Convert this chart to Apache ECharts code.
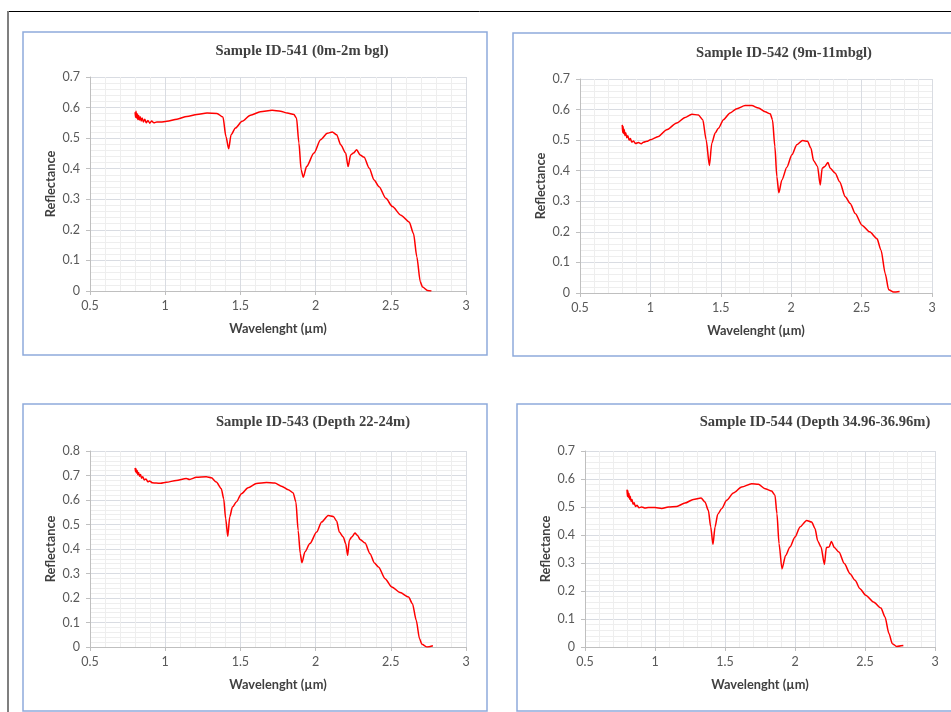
<!DOCTYPE html>
<html>
<head>
<meta charset="utf-8">
<script src="https://cdn.jsdelivr.net/npm/echarts@6/dist/echarts.min.js"></script>
<style>
html,body{margin:0;padding:0;background:#fff;}
#c{width:951px;height:712px;}
</style>
</head>
<body>
<div id="c"></div>
<script>
const titles = ['Sample ID-541 (0m-2m bgl)', 'Sample ID-542 (9m-11mbgl)', 'Sample ID-543 (Depth 22-24m)', 'Sample ID-544 (Depth 34.96-36.96m)'];
const xName = 'Wavelenght (µm)';
const yName = 'Reflectance';
const xTicks = [0.5, 1, 1.5, 2, 2.5, 3];
const yMax = [0.7, 0.7, 0.8, 0.7];

const x541 = [0.800,0.803,0.806,0.810,0.814,0.818,0.823,0.828,0.834,0.840,0.847,0.855,0.864,0.874,0.885,0.897,0.910,0.925,0.944,0.970,1.011,1.078,1.144,1.211,1.278,1.344,1.384,1.404,1.422,1.438,1.467,1.511,1.567,1.633,1.711,1.767,1.811,1.856,1.873,1.889,1.904,1.918,1.940,1.989,2.033,2.078,2.111,2.140,2.167,2.200,2.216,2.233,2.251,2.273,2.296,2.322,2.356,2.389,2.422,2.467,2.511,2.567,2.622,2.651,2.673,2.696,2.711,2.744,2.770];
const y541 = [0.585,0.568,0.588,0.566,0.580,0.561,0.575,0.559,0.570,0.556,0.566,0.553,0.562,0.550,0.558,0.549,0.556,0.550,0.553,0.553,0.555,0.562,0.571,0.577,0.582,0.581,0.569,0.505,0.465,0.511,0.533,0.555,0.575,0.586,0.591,0.588,0.582,0.577,0.566,0.484,0.396,0.372,0.407,0.451,0.495,0.516,0.520,0.511,0.478,0.451,0.407,0.445,0.451,0.462,0.445,0.438,0.402,0.363,0.341,0.303,0.276,0.248,0.226,0.188,0.112,0.030,0.013,0.002,0.000];

const x542 = [0.800,0.803,0.806,0.810,0.814,0.819,0.825,0.832,0.840,0.849,0.858,0.867,0.880,0.895,0.915,0.935,0.950,0.975,1.000,1.057,1.116,1.187,1.246,1.294,1.341,1.372,1.396,1.419,1.436,1.460,1.483,1.519,1.566,1.614,1.673,1.720,1.768,1.815,1.851,1.867,1.884,1.898,1.912,1.934,1.969,2.005,2.040,2.081,2.116,2.140,2.159,2.187,2.206,2.220,2.239,2.261,2.277,2.313,2.344,2.384,2.419,2.455,2.502,2.557,2.609,2.638,2.668,2.692,2.727,2.770];
const y542 = [0.550,0.525,0.545,0.522,0.535,0.515,0.524,0.508,0.514,0.500,0.505,0.494,0.497,0.489,0.492,0.488,0.493,0.496,0.501,0.512,0.534,0.556,0.574,0.585,0.582,0.567,0.501,0.417,0.490,0.523,0.539,0.567,0.589,0.603,0.613,0.613,0.605,0.593,0.586,0.567,0.479,0.381,0.328,0.370,0.411,0.452,0.485,0.499,0.496,0.474,0.433,0.414,0.353,0.408,0.414,0.427,0.408,0.392,0.364,0.315,0.293,0.260,0.222,0.200,0.178,0.140,0.063,0.011,0.003,0.005];

const x543 = [0.800,0.803,0.806,0.810,0.814,0.818,0.823,0.829,0.836,0.843,0.851,0.860,0.872,0.885,0.896,0.915,0.940,0.970,1.007,1.073,1.140,1.162,1.207,1.273,1.307,1.340,1.373,1.389,1.402,1.416,1.429,1.447,1.473,1.507,1.551,1.607,1.673,1.729,1.773,1.818,1.851,1.869,1.884,1.898,1.909,1.929,1.962,2.007,2.040,2.084,2.118,2.140,2.158,2.184,2.200,2.213,2.224,2.240,2.262,2.278,2.296,2.329,2.362,2.391,2.418,2.462,2.507,2.562,2.618,2.644,2.669,2.691,2.707,2.740,2.780];
const y543 = [0.731,0.715,0.728,0.710,0.720,0.703,0.712,0.697,0.704,0.689,0.695,0.682,0.686,0.674,0.678,0.670,0.669,0.668,0.672,0.680,0.688,0.684,0.693,0.695,0.691,0.673,0.646,0.605,0.524,0.452,0.531,0.571,0.592,0.626,0.650,0.667,0.671,0.669,0.656,0.642,0.629,0.592,0.476,0.381,0.344,0.388,0.422,0.469,0.510,0.537,0.533,0.514,0.469,0.449,0.422,0.374,0.435,0.449,0.465,0.456,0.439,0.424,0.381,0.343,0.327,0.279,0.245,0.222,0.204,0.177,0.109,0.034,0.011,0.000,0.005];

const x544 = [0.800,0.803,0.806,0.810,0.814,0.818,0.823,0.829,0.836,0.843,0.851,0.860,0.872,0.886,0.905,0.930,0.952,1.000,1.048,1.095,1.155,1.214,1.274,1.329,1.357,1.381,1.398,1.414,1.429,1.448,1.476,1.512,1.560,1.619,1.690,1.738,1.786,1.833,1.857,1.871,1.886,1.907,1.933,1.964,2.000,2.036,2.083,2.119,2.143,2.162,2.186,2.210,2.224,2.243,2.260,2.281,2.314,2.352,2.393,2.429,2.464,2.505,2.560,2.614,2.643,2.671,2.695,2.726,2.774];
const y544 = [0.562,0.538,0.558,0.535,0.548,0.528,0.538,0.520,0.527,0.510,0.515,0.502,0.506,0.497,0.500,0.496,0.498,0.498,0.495,0.500,0.502,0.514,0.527,0.532,0.518,0.488,0.429,0.367,0.429,0.474,0.494,0.524,0.550,0.571,0.583,0.581,0.565,0.557,0.542,0.476,0.369,0.279,0.327,0.357,0.393,0.429,0.452,0.446,0.423,0.379,0.357,0.295,0.355,0.357,0.377,0.355,0.339,0.298,0.262,0.238,0.208,0.185,0.161,0.139,0.107,0.048,0.012,0.002,0.005];

const xs = [x541, x542, x543, x544];
const ys = [y541, y542, y543, y544];

// layout
const grids = [
  {left: 90, top: 77, width: 376, height: 214},
  {left: 580, top: 79, width: 352, height: 214},
  {left: 90, top: 451, width: 376, height: 196},
  {left: 585, top: 451, width: 350, height: 196}
];
const titlePos = [[302, 44], [784, 46], [313, 415], [815, 415]];
const boxes = [
  {x: 23, y: 32, w: 464, h: 323},
  {x: 513, y: 33, w: 445, h: 323},
  {x: 23, y: 404, w: 464, h: 307},
  {x: 517, y: 404, w: 441, h: 307}
];

const tickFont = {fontFamily: 'Lato, "Open Sans", sans-serif', fontSize: 12.5, color: '#595959'};
const nameFont = {fontFamily: 'Lato, "Open Sans", sans-serif', fontSize: 12.8, fontWeight: 'bold', color: '#404040'};

const option = {
  backgroundColor: '#ffffff',
  animation: false,
  title: titles.map((t, i) => ({
    text: t,
    left: titlePos[i][0],
    top: titlePos[i][1],
    textAlign: 'center',
    padding: 0,
    textStyle: {fontFamily: '"Liberation Serif", "Times New Roman", serif', fontWeight: 'bold', fontSize: 14.6, color: '#404040'}
  })),
  grid: grids.map(g => Object.assign({containLabel: false}, g)),
  xAxis: grids.map((g, i) => ({
    type: 'value', gridIndex: i,
    min: xTicks[0], max: xTicks[xTicks.length - 1], interval: 0.5,
    name: xName, nameLocation: 'middle', nameGap: 31, nameTextStyle: nameFont,
    axisLine: {show: true, lineStyle: {color: '#bfbfbf', width: 1}},
    axisTick: {show: true, length: 4, lineStyle: {color: '#bfbfbf'}},
    axisLabel: Object.assign({margin: 8}, tickFont),
    splitLine: {show: true, lineStyle: {color: '#d9dce2', width: 1}},
    minorTick: {show: false, splitNumber: 5},
    minorSplitLine: {show: true, lineStyle: {color: '#eeeeee', width: 1}}
  })),
  yAxis: grids.map((g, i) => ({
    type: 'value', gridIndex: i,
    min: 0, max: yMax[i], interval: 0.1,
    name: yName, nameLocation: 'middle', nameGap: 33, nameTextStyle: nameFont,
    axisLine: {show: true, lineStyle: {color: '#bfbfbf', width: 1}},
    axisTick: {show: true, length: 4, lineStyle: {color: '#bfbfbf'}},
    axisLabel: Object.assign({margin: 10, formatter: v => (Math.round(v * 10) / 10).toString()}, tickFont),
    splitLine: {show: true, lineStyle: {color: '#d9dce2', width: 1}},
    minorTick: {show: false, splitNumber: 5},
    minorSplitLine: {show: true, lineStyle: {color: '#eeeeee', width: 1}}
  })),
  series: xs.map((xa, i) => ({
    type: 'line', xAxisIndex: i, yAxisIndex: i,
    data: xa.map((x, k) => [x, ys[i][k]]),
    showSymbol: false, symbol: 'none', smooth: 0.25, smoothMonotone: 'x',
    lineStyle: {color: '#ff0000', width: 1.5},
    z: 5
  })),
  graphic: [
    {type: 'line', shape: {x1: 8, y1: 11.5, x2: 951, y2: 11.5}, style: {stroke: '#000000', lineWidth: 1}},
    {type: 'line', shape: {x1: 8, y1: 11, x2: 8, y2: 712}, style: {stroke: '#7f7f7f', lineWidth: 2}}
  ].concat(boxes.map(b => ({
    type: 'rect', shape: {x: b.x, y: b.y, width: b.w, height: b.h},
    style: {fill: 'none', stroke: '#8eaadb', lineWidth: 1.5}, z: 0
  })))
};

const chart = echarts.init(document.getElementById('c'), null, {renderer: 'canvas'});
chart.setOption(option);
</script>
</body>
</html>
